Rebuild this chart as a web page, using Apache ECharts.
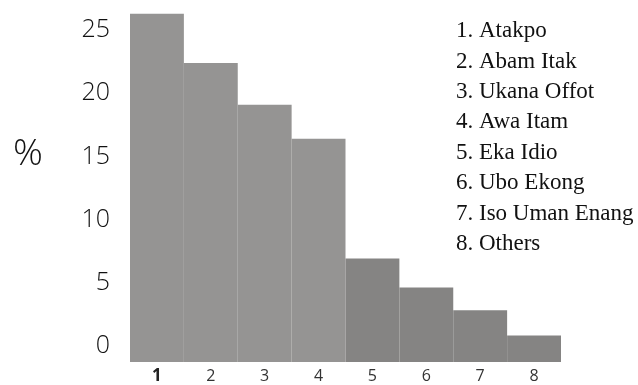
<!DOCTYPE html>
<html>
<head>
<meta charset="utf-8">
<script src="https://cdn.jsdelivr.net/npm/echarts@6/dist/echarts.min.js"></script>
<style>
html,body{margin:0;padding:0;background:#fff;}
#main{width:638px;height:385px;}
</style>
</head>
<body>
<div id="main"></div>
<script>
// Data
var categories = ['1', '2', '3', '4', '5', '6', '7', '8'];
var names = ['Atakpo', 'Abam Itak', 'Ukana Offot', 'Awa Itam', 'Eka Idio', 'Ubo Ekong', 'Iso Uman Enang', 'Others'];
var percentValues = [26.3, 22.4, 19.1, 16.4, 6.9, 4.6, 2.8, 0.8];
var yTickValues = [0, 5, 10, 15, 20, 25];

var chart = echarts.init(document.getElementById('main'), null, {renderer: 'canvas'});

var listText = categories.map(function (c, i) { return c + '. ' + names[i]; }).join('\n');

var option = {
  animation: false,
  backgroundColor: '#ffffff',
  title: [
    {
      text: '%',
      left: 8,
      top: 131,
      textStyle: {fontFamily: 'Open Sans', fontSize: 37, fontWeight: 300, color: '#111'}
    },
    {
      text: listText,
      left: 456,
      top: 16,
      padding: 0,
      textStyle: {fontFamily: 'Liberation Serif', fontSize: 23, fontWeight: 'normal', color: '#111', lineHeight: 30.4}
    }
  ],
  grid: {left: 130, right: 77, top: 0, bottom: 21, containLabel: false},
  xAxis: {
    type: 'category',
    data: categories,
    axisLine: {show: false},
    axisTick: {show: false},
    axisLabel: {
      margin: 6,
      fontFamily: 'Open Sans',
      fontSize: 16,
      color: '#333',
      formatter: function (v, i) { return i === 0 ? '{b|' + v + '}' : v; },
      rich: {b: {fontFamily: 'Open Sans', fontSize: 17, fontWeight: 'bold', color: '#222'}}
    }
  },
  yAxis: {
    type: 'value',
    min: -1.3,
    max: 27.4,
    startValue: -1.3,
    splitLine: {show: false},
    axisLine: {show: false},
    axisTick: {show: false},
    axisLabel: {
      customValues: yTickValues,
      margin: 20,
      fontFamily: 'Open Sans',
      fontSize: 25,
      fontWeight: 300,
      color: '#111'
    }
  },
  series: [{
    type: 'bar',
    data: percentValues,
    barWidth: '100%',
    barCategoryGap: '0%',
    itemStyle: {
      color: function (p) { return p.dataIndex < 4 ? '#959493' : '#858483'; }
    }
  }]
};
chart.setOption(option);
</script>
</body>
</html>
